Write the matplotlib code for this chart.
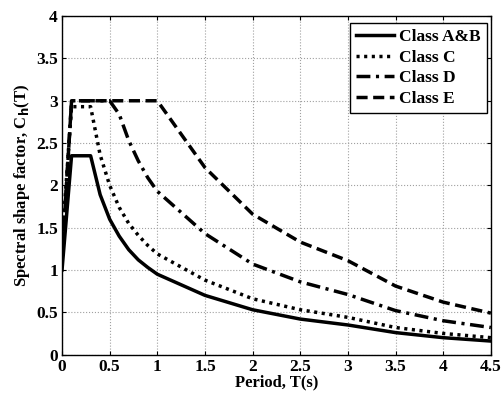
import matplotlib.pyplot as plt

plt.rcParams['font.family'] = 'Liberation Serif'
plt.rcParams['font.weight'] = 'bold'

# period grid and spectral shape factor per site class
T = [0, 0.1, 0.2, 0.3, 0.4, 0.5, 0.6, 0.7, 0.8, 0.9, 1.0, 1.5, 2.0, 2.5, 3.0, 3.5, 4.0, 4.5]
ch_ab = [1.00, 2.35, 2.35, 2.35, 1.89, 1.60, 1.40, 1.24, 1.12, 1.03, 0.95, 0.70, 0.53, 0.42, 0.35, 0.26, 0.20, 0.16]
ch_c = [1.33, 2.93, 2.93, 2.93, 2.36, 2.00, 1.74, 1.55, 1.41, 1.29, 1.19, 0.88, 0.66, 0.53, 0.44, 0.32, 0.25, 0.20]
ch_d = [1.12, 3.00, 3.00, 3.00, 3.00, 3.00, 2.84, 2.53, 2.29, 2.09, 1.93, 1.43, 1.07, 0.86, 0.71, 0.52, 0.40, 0.32]
ch_e = [1.12, 3.00, 3.00, 3.00, 3.00, 3.00, 3.00, 3.00, 3.00, 3.00, 3.00, 2.21, 1.66, 1.33, 1.11, 0.81, 0.62, 0.49]
labels = ['Class A&B', 'Class C', 'Class D', 'Class E']

fig = plt.figure(figsize=(5.01, 3.94), dpi=100)
ax = fig.add_axes([0.1238, 0.100, 0.856, 0.859])

lw = 2.5
ax.plot(T, ch_ab, color='k', lw=lw, ls='-', label=labels[0])
ax.plot(T, ch_c, color='k', lw=lw, ls=(0, (0.9, 1.3)), label=labels[1])
ax.plot(T, ch_d, color='k', lw=lw, ls=(0, (4, 1.6, 0.9, 1.6)), label=labels[2])
ax.plot(T, ch_e, color='k', lw=lw, ls=(0, (3.2, 1.6)), label=labels[3])

ax.set_xlim(0, 4.5)
ax.set_ylim(0, 4)
ax.set_xticks([0, 0.5, 1, 1.5, 2, 2.5, 3, 3.5, 4, 4.5])
ax.set_xticklabels(['0', '0.5', '1', '1.5', '2', '2.5', '3', '3.5', '4', '4.5'])
ax.set_yticks([0, 0.5, 1, 1.5, 2, 2.5, 3, 3.5, 4])
ax.set_yticklabels(['0', '0.5', '1', '1.5', '2', '2.5', '3', '3.5', '4'])
ax.grid(True, color='#a0a0a0', ls=':', lw=0.8)
ax.tick_params(direction='in', top=True, right=True, length=3, width=0.8,
               labelsize=12.5, pad=3)
for spine in ax.spines.values():
    spine.set_linewidth(1.0)

ax.set_xlabel('Period, T(s)', fontsize=12, fontweight='bold', labelpad=0)
ax.set_ylabel('Spectral shape factor, C$_\\mathbf{h}$(T)', fontsize=12,
              fontweight='bold', labelpad=3)

leg = ax.legend(loc='upper right', bbox_to_anchor=(0.991, 0.979), fontsize=12.5,
                frameon=True, fancybox=False, edgecolor='k', framealpha=1,
                borderpad=0.35, labelspacing=0.25, handlelength=2.2,
                handletextpad=0.3, borderaxespad=0)
leg.get_frame().set_linewidth(1.0)

fig.savefig('out.png', dpi=100)
